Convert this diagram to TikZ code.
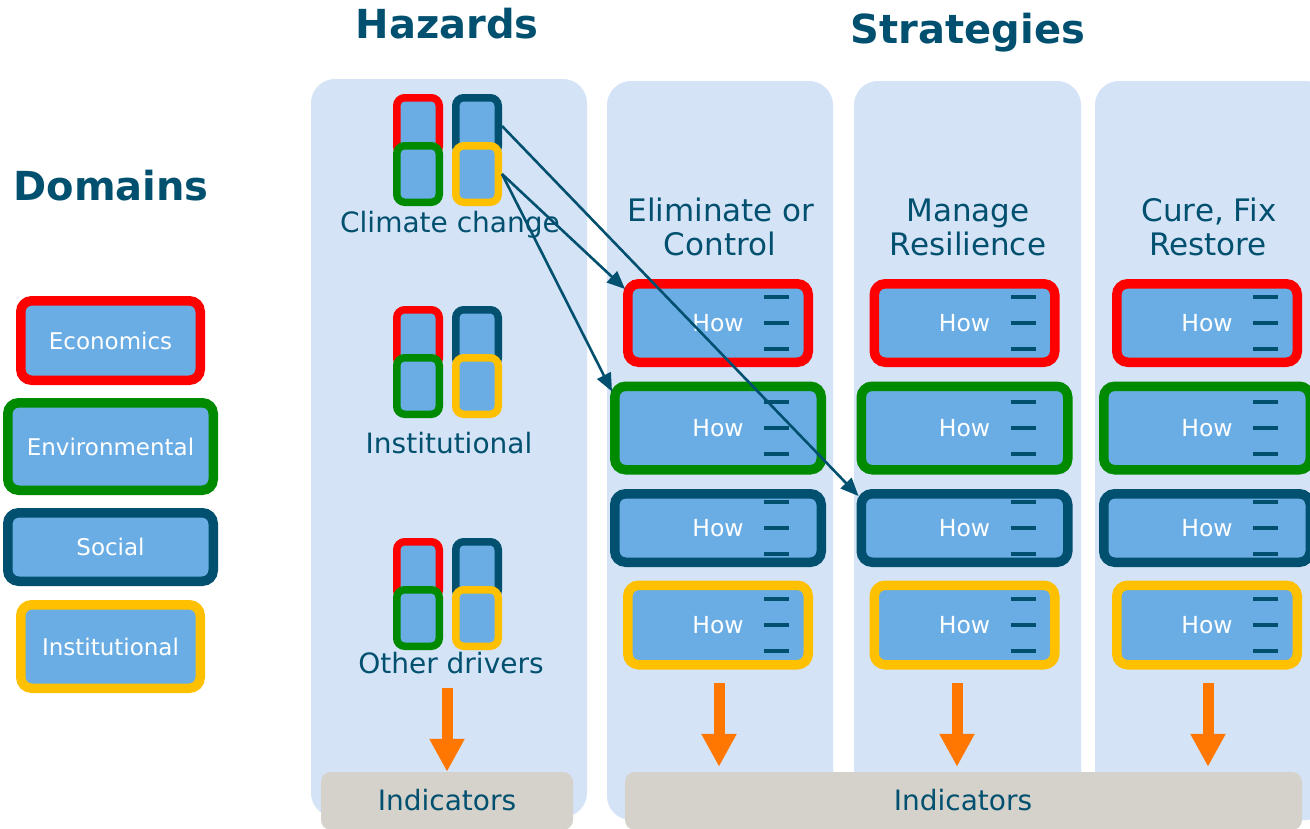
\documentclass[tikz,border=0pt]{standalone}
\usepackage{fontspec}
\setmainfont{DejaVu Sans}
\usetikzlibrary{arrows.meta}

\definecolor{navy}{HTML}{02506F}
\definecolor{boxblue}{HTML}{6AADE4}
\definecolor{panelblue}{HTML}{D4E3F5}
\definecolor{indgray}{HTML}{D5D2CB}
\definecolor{domred}{HTML}{FF0000}
\definecolor{domgreen}{HTML}{008A00}
\definecolor{domyellow}{HTML}{FFC000}
\definecolor{orng}{HTML}{FF7700}

\tikzset{
  dombox/.style={draw=#1, line width=9.5pt, fill=boxblue, rounded corners=11pt,
    inner sep=0pt, text=white},
  hzbox/.style={draw=#1, line width=7.5pt, fill=boxblue, rounded corners=8pt,
    minimum width=42.5pt, minimum height=56.5pt, inner sep=0pt},
  lbl/.style={text=navy, font=\fontsize{28}{32}\selectfont, inner sep=0pt},
  hdr/.style={text=navy, font=\fontsize{31}{34}\selectfont, inner sep=0pt},
  ttl/.style={text=navy, font=\fontsize{40}{44}\selectfont\bfseries, inner sep=0pt},
  dashln/.style={draw=navy, line width=3.2pt},
  link/.style={draw=navy, line width=2.6pt, -{Triangle[length=18pt,width=15pt]}},
  down/.style={draw=orng, line width=11pt, -{Triangle[length=33pt,width=33pt]}}
}

\begin{document}
\begin{tikzpicture}[x=1pt,y=-1pt]
        \useasboundingbox (0,0) rectangle (1310,828);

        % panels
        \fill[panelblue, rounded corners=24pt] (311,79) rectangle (587,817);
        \fill[panelblue, rounded corners=24pt] (607,81) rectangle (833,820);
        \fill[panelblue, rounded corners=24pt] (854,81) rectangle (1081,820);
        \fill[panelblue, rounded corners=24pt] (1095,81) rectangle (1330,820);

        % titles
        \node[ttl, anchor=base] (hazards) at (447,38) {Hazards};
        \node[ttl, anchor=base] (strategies) at (968,43) {Strategies};
        \node[ttl, anchor=base] (domains) at (111,200) {Domains};

        % domains legend
        \node[dombox=domred, minimum width=179.5pt, minimum height=79.5pt,
          font=\fontsize{23}{26}\selectfont] (econ) at (110.5,340.5) {Economics};
        \node[dombox=domgreen, minimum width=205.5pt, minimum height=87.5pt,
          font=\fontsize{23}{26}\selectfont] (env) at (110.5,446.5) {Environmental};
        \node[dombox=navy, minimum width=205.5pt, minimum height=68.5pt,
          font=\fontsize{23}{26}\selectfont] (soc) at (110.5,547) {Social};
        \node[dombox=domyellow, minimum width=179.5pt, minimum height=83.5pt,
          font=\fontsize{23}{26}\selectfont] (inst) at (110.5,646.5) {Institutional};

        % hazards
        \foreach \g/\dy in {1/0,2/212,3/444} {
          \node[hzbox=domred] (hz\g-r) at (418,126+\dy) {};
          \node[hzbox=navy] (hz\g-b) at (477,126+\dy) {};
          \node[hzbox=domgreen] (hz\g-g) at (418,174+\dy) {};
          \node[hzbox=domyellow] (hz\g-y) at (477,174+\dy) {};
        }
        \node[lbl, anchor=base] (cc) at (450,232) {Climate change};
        \node[lbl, anchor=base] (ins) at (449,453) {Institutional};
        \node[lbl, anchor=base] (od) at (451,673) {Other drivers};

        % strategy headers
        \node[hdr, anchor=base] (h1a) at (721,221) {Eliminate or};
        \node[hdr, anchor=base] (h1b) at (720,255) {Control};
        \node[hdr, anchor=base] (h2a) at (968,221) {Manage};
        \node[hdr, anchor=base] (h2b) at (968,255) {Resilience};
        \node[hdr, anchor=base] (h3a) at (1209,221) {Cure, Fix};
        \node[hdr, anchor=base] (h3b) at (1208,255) {Restore};

        % how boxes
        \foreach \c/\x in {e/718,m/964.5,r/1207} {
          \node[dombox=domred, minimum width=180.5pt, minimum height=78.5pt,
            font=\fontsize{23.5}{27}\selectfont] (\c1) at (\x,323) {How};
          \node[dombox=domgreen, minimum width=206.5pt, minimum height=83.5pt,
            font=\fontsize{23.5}{27}\selectfont] (\c2) at (\x,428) {How};
          \node[dombox=navy, minimum width=206.5pt, minimum height=68.5pt,
            font=\fontsize{23.5}{27}\selectfont] (\c3) at (\x,528) {How};
          \node[dombox=domyellow, minimum width=180.5pt, minimum height=79.5pt,
            font=\fontsize{23.5}{27}\selectfont] (\c4) at (\x,625) {How};
          \foreach \n in {1,...,4}
            \foreach \dy in {-26,0,26}
              \draw[dashln] ([shift={(46,\dy)}]\c\n.center) -- ++(25,0);
        }

        % indicators
        \node[fill=indgray, rounded corners=10pt, minimum width=252pt,
          minimum height=58pt, inner sep=0pt] (ind1) at (447,801) {};
        \node[lbl, anchor=base] at (447,810) {Indicators};
        \node[fill=indgray, rounded corners=10pt, minimum width=677pt,
          minimum height=58pt, inner sep=0pt] (ind2) at (963.5,801) {};
        \node[lbl, anchor=base] at (963,810) {Indicators};

        \coordinate (o1) at (447,688);
        \coordinate (o2) at (719,683);
        \coordinate (o3) at (957,683);
        \coordinate (o4) at (1208,683);
        \draw[down] (o1) -- (ind1.north -| o1);
        \draw[down] (o2) -- ([yshift=5pt]ind2.north -| o2);
        \draw[down] (o3) -- ([yshift=5pt]ind2.north -| o3);
        \draw[down] (o4) -- ([yshift=5pt]ind2.north -| o4);

        % links
        \draw[link] (hz1-b.east) -- ([shift={(2,7)}]m3.north west);
        \draw[link] (hz1-y.east) -- ([shift={(2,10)}]e1.north west);
        \draw[link] (hz1-y.east) -- ([shift={(2,10)}]e2.north west);

      \end{tikzpicture}
\end{document}
